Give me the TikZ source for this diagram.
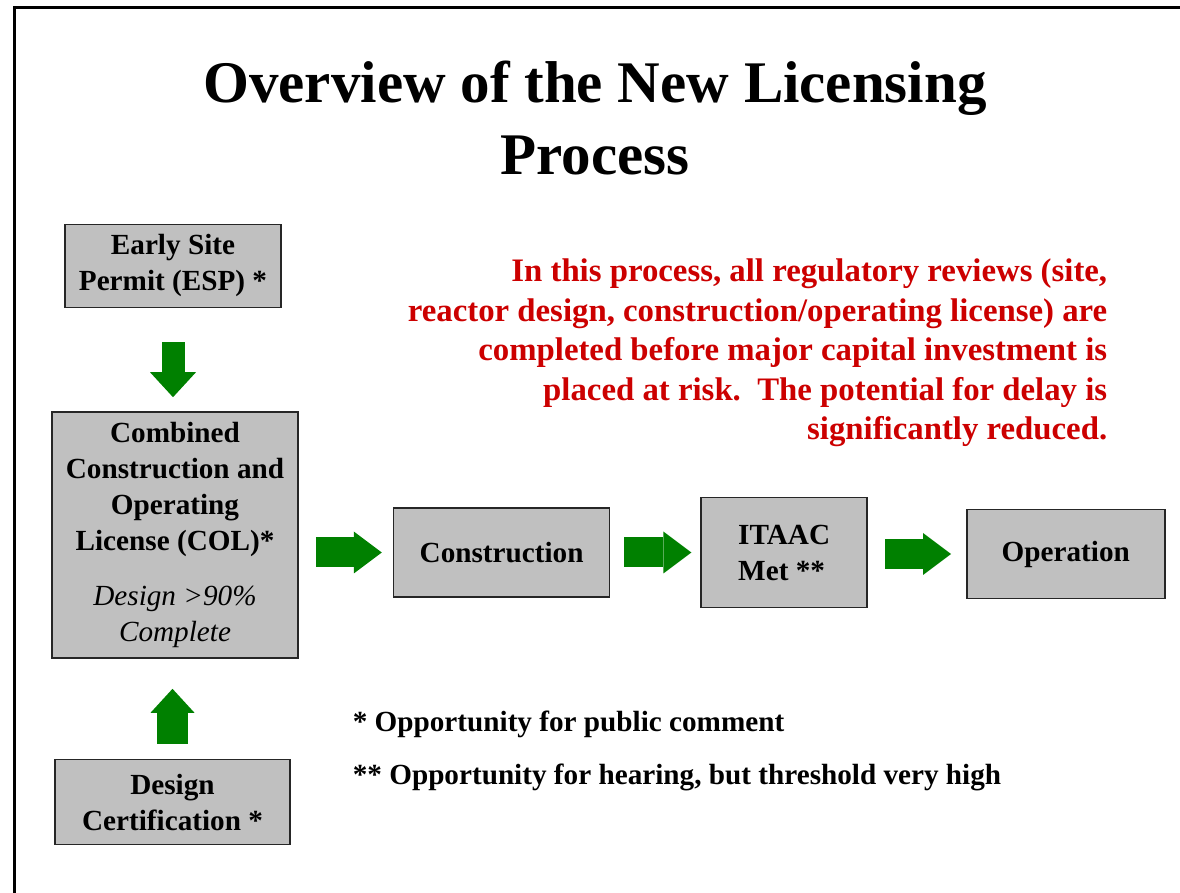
\documentclass[tikz,border=0pt]{standalone}
\usepackage{fontspec}
\setmainfont{Liberation Serif}
\usepackage{tikz}
\usetikzlibrary{positioning,arrows.meta}
\definecolor{boxgray}{RGB}{192,192,192}
\definecolor{flowgreen}{RGB}{0,128,0}
\definecolor{notered}{RGB}{204,0,0}

\begin{document}
\begin{tikzpicture}[x=0.5pt,y=-0.5pt,line width=0.8pt]
	\tikzstyle{stage}=[draw=black!85,fill=boxgray,align=center,inner sep=0pt,font=\fontsize{14.6}{18}\selectfont\bfseries]
	\tikzstyle{flow}=[draw=flowgreen,line width=15pt,-{Triangle[width=21pt,length=14pt,line width=0pt]}]
	\tikzstyle{note}=[anchor=west,inner sep=0pt,font=\fontsize{14.6}{18}\selectfont\bfseries]
	\useasboundingbox (0,0) rectangle (1180,893);
	\draw[line width=1.5pt] (14,893) -- (14,8) -- (1180,8);
	\node[font=\fontsize{29.5}{36}\selectfont\bfseries,align=center] (title) at (595,118) {Overview of the New Licensing\\Process};
	\node[stage,minimum width=123pt,minimum height=123pt] (col) at (175,535)
	{Combined\\Construction and\\Operating\\License (COL)*\\[9.5pt]{\normalfont\itshape Design >90\%}\\{\normalfont\itshape Complete}};
	\node[stage,minimum width=108pt,minimum height=41.5pt,above=51.5pt of col,xshift=-1pt] (esp) {Early Site\\Permit (ESP) *};
	\node[stage,minimum width=117.5pt,minimum height=42.5pt,below=50pt of col,xshift=-1.25pt] (cert) {Design\\Certification *};
	\node[stage,minimum width=108pt,minimum height=44.5pt,right=47pt of col,yshift=-8.75pt] (cons) {Construction};
	\node[stage,minimum width=83pt,minimum height=55pt,align=left,right=45pt of cons] (itaac) {ITAAC\\Met **};
	\node[stage,minimum width=99pt,minimum height=44.5pt,right=49pt of itaac,yshift=-0.75pt] (oper) {Operation};
	\draw[flow,shorten <=8.5pt,shorten >=5.5pt] (col.east |- cons.west) -- (cons.west);
	\draw[flow,shorten <=7pt,shorten >=4.5pt] (cons.east) -- (cons.east -| itaac.west);
	\draw[flow,shorten <=8.5pt,shorten >=7.5pt] (itaac.east |- oper.west) -- (oper.west);
	\draw[flow,line width=11.5pt,-{Triangle[width=23pt,length=12.5pt,line width=0pt]},shorten <=17pt,shorten >=7pt] (esp.south) -- (esp.south |- col.north);
	\draw[flow,line width=15.5pt,-{Triangle[width=22pt,length=12pt,line width=0pt]},shorten <=7.5pt,shorten >=15pt] (cert.north) -- (cert.north |- col.south);
	\node[font=\fontsize{16.4}{19.75}\selectfont\bfseries,text=notered,align=right,anchor=north east,inner sep=0pt] (claim) at (1108,258)
	{In this process, all regulatory reviews (site,\\reactor design, construction/operating license) are\\completed before major capital investment is\\placed at risk.\ \ The potential for delay is\\significantly reduced.};
	\node[note] (note1) at (352,724) {* Opportunity for public comment};
	\node[note] (note2) at (352,777) {** Opportunity for hearing, but threshold very high};
\end{tikzpicture}
\end{document}
